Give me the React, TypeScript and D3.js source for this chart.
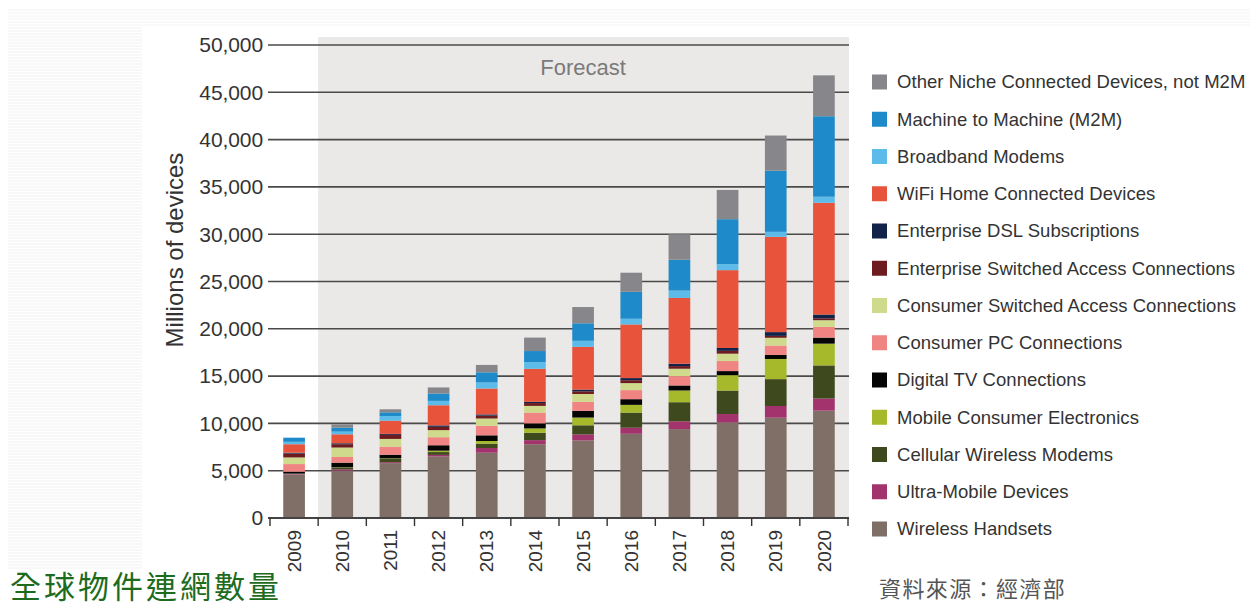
import React from "react";
import * as d3 from "d3";

const years = ["2009","2010","2011","2012","2013","2014","2015","2016","2017","2018","2019","2020"];

// series, bottom to top (millions of devices)
const wirelessHandsets = [4600, 5000, 5800, 6500, 6900, 7800, 8200, 8900, 9400, 10100, 10600, 11350];
const ultraMobile = [50, 150, 100, 170, 500, 430, 640, 640, 820, 890, 1240, 1280];
const cellularModems = [50, 150, 350, 300, 460, 780, 960, 1600, 2020, 2480, 2840, 3500];
const mobileCE = [0, 50, 50, 150, 280, 460, 820, 820, 1240, 1630, 2130, 2300];
const digitalTV = [200, 500, 390, 570, 600, 530, 710, 600, 530, 430, 430, 640];
const consumerPC = [800, 600, 850, 850, 1000, 1140, 960, 960, 990, 1060, 990, 1130];
const consumerSwitched = [700, 1000, 820, 750, 780, 710, 820, 740, 780, 780, 820, 710];
const enterpriseSwitched = [400, 350, 430, 350, 300, 300, 280, 300, 280, 300, 200, 200];
const enterpriseDSL = [100, 100, 100, 150, 130, 130, 180, 230, 250, 300, 400, 400];
const wifiHome = [900, 950, 1390, 2130, 2740, 3490, 4520, 5670, 6950, 8230, 10070, 11810];
const broadband = [250, 280, 500, 460, 640, 710, 640, 600, 780, 640, 530, 640];
const m2m = [440, 420, 390, 780, 1070, 1170, 1850, 2850, 3260, 4750, 6460, 8510];
const otherNiche = [0, 350, 320, 640, 780, 1420, 1720, 2020, 2700, 3090, 3720, 4320];

const yTicks = [0, 5000, 10000, 15000, 20000, 25000, 30000, 35000, 40000, 45000, 50000];

const seriesNames = [
  "Wireless Handsets",
  "Ultra-Mobile Devices",
  "Cellular Wireless Modems",
  "Mobile Consumer Electronics",
  "Digital TV Connections",
  "Consumer PC Connections",
  "Consumer Switched Access Connections",
  "Enterprise Switched Access Connections",
  "Enterprise DSL Subscriptions",
  "WiFi Home Connected Devices",
  "Broadband Modems",
  "Machine to Machine (M2M)",
  "Other Niche Connected Devices, not M2M",
];
const seriesValues = [
  wirelessHandsets, ultraMobile, cellularModems, mobileCE, digitalTV, consumerPC,
  consumerSwitched, enterpriseSwitched, enterpriseDSL, wifiHome, broadband, m2m, otherNiche,
];
const seriesColors = [
  "#7f6f67", "#a2336c", "#3e4a1d", "#a5b92b", "#050505", "#f08482",
  "#d0da8c", "#6e1b20", "#112349", "#e8533b", "#5cbbe8", "#1f8ac9", "#87878b",
];

export default function App() {
  const W = 1250, H = 605;
  const x = d3.scaleBand<string>().domain(years).range([270, 848]).paddingInner(0.55).paddingOuter(0.275);
  const y = d3.scaleLinear().domain([0, 50000]).range([518, 45]);

  const table = years.map((yr, i) => {
    const row: any = { year: yr };
    seriesNames.forEach((n, k) => (row[n] = seriesValues[k][i]));
    return row;
  });
  const stacked = d3.stack<any>().keys(seriesNames)(table);
  const fmt = d3.format(",");

  const stripesTop = d3.range(10, 28, 3);
  const stripesLeft = d3.range(28, 570, 3);
  const font = "'Liberation Sans', Arial, sans-serif";
  const legendOrder = seriesNames.map((n, i) => i).reverse();
  const step = x.step();

  return (
    <svg width={W} height={H} style={{ position: "absolute", left: 0, top: 0, background: "#fff" }}>
      <rect x={0} y={0} width={W} height={H} fill="#fff" />
      {stripesTop.map((s) => (
        <line key={"t" + s} x1={8} x2={W} y1={s} y2={s} stroke="#f4f4f4" strokeWidth={1} />
      ))}
      {stripesLeft.map((s) => (
        <line key={"l" + s} x1={8} x2={142} y1={s} y2={s} stroke="#f1f1f1" strokeWidth={1} />
      ))}
      {/* forecast shading */}
      <rect x={x.range()[0] + step} y={37} width={849 - (x.range()[0] + step)} height={y(0) - 37} fill="#ebe9e7" />
      <text x={583} y={75} textAnchor="middle" fontFamily={font} fontSize={22} fill="#7a7a7a">Forecast</text>

      {/* gridlines */}
      {yTicks.map((t) => (
        <g key={t}>
          <line x1={268} x2={849} y1={y(t)} y2={y(t)} stroke="#4a4a4a" strokeWidth={1.6} />
          <text x={263} y={y(t)} dy="0.35em" textAnchor="end" fontFamily={font} fontSize={21} fill="#333" letterSpacing={-0.1}>
            {fmt(t)}
          </text>
        </g>
      ))}

      {/* bars */}
      {stacked.map((layer, k) => (
        <g key={layer.key} fill={seriesColors[k]}>
          {layer.map((d, i) => (
            <rect key={i} x={x(years[i])} y={y(d[1])} width={x.bandwidth()} height={Math.max(0, y(d[0]) - y(d[1]))} />
          ))}
        </g>
      ))}

      {/* x axis */}
      <line x1={268} x2={849} y1={y(0)} y2={y(0)} stroke="#333" strokeWidth={1.6} />
      {d3.range(years.length + 1).map((i) => (
        <line key={i} x1={270 + i * step} x2={270 + i * step} y1={y(0)} y2={y(0) + 8} stroke="#333" strokeWidth={1.4} />
      ))}
      {years.map((yr) => (
        <text key={yr} transform={`translate(${(x(yr) as number) + x.bandwidth() / 2},${530}) rotate(-90)`}
          textAnchor="end" dy="0.35em" fontFamily={font} fontSize={19} fill="#333">
          {yr}
        </text>
      ))}

      <text transform={`translate(175,250) rotate(-90)`} textAnchor="middle" dy="0.35em" fontFamily={font} fontSize={24} fill="#333">
        Millions of devices
      </text>

      {/* legend */}
      {legendOrder.map((k, j) => {
        const cy = 82 + j * 37.25;
        return (
          <g key={k}>
            <rect x={872} y={cy - 7.5} width={15} height={15} fill={seriesColors[k]} />
            <text x={897} y={cy} dy="0.35em" fontFamily={font} fontSize={18.5} fill="#333" letterSpacing={0.05}>
              {seriesNames[k]}
            </text>
          </g>
        );
      })}

      <text x={10} y={598} fontFamily="'Noto Sans CJK TC', sans-serif" fontWeight={400} fontSize={31} fill="#1d6b1d" letterSpacing={3}>
        全球物件連網數量
      </text>
      <text x={879} y={597} fontFamily="'Noto Sans CJK TC', sans-serif" fontSize={22} fill="#555" letterSpacing={1.4}>
        資料來源：經濟部
      </text>
    </svg>
  );
}
